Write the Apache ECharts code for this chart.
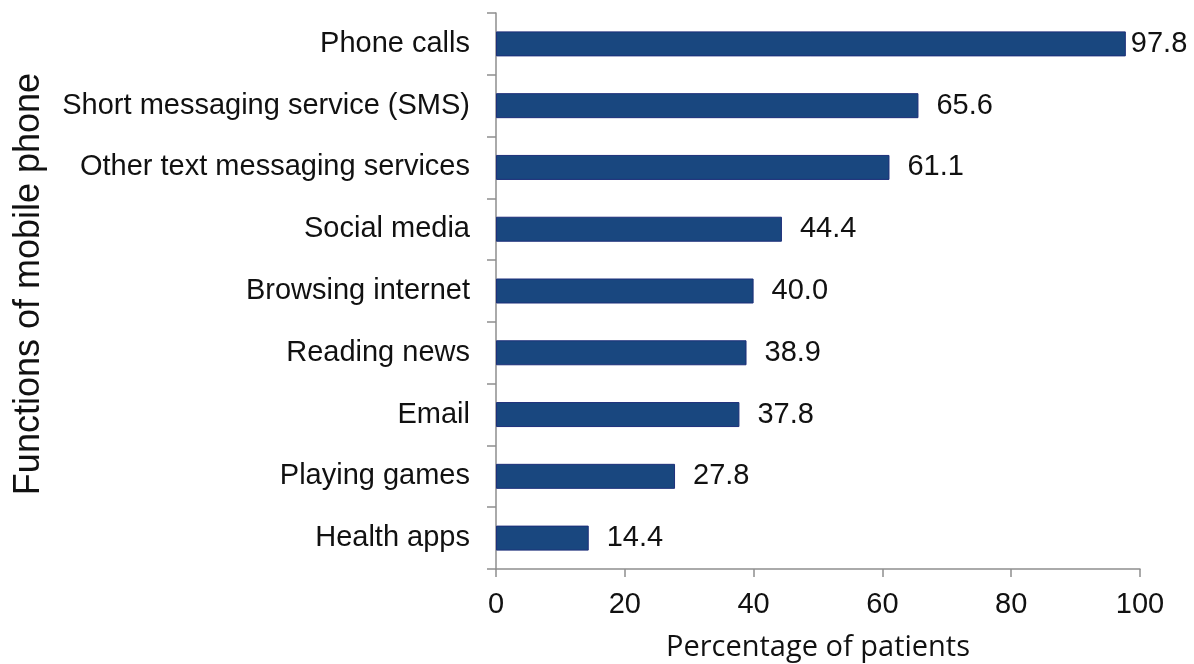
<!DOCTYPE html>
<html>
<head>
<meta charset="utf-8">
<script src="https://cdn.jsdelivr.net/npm/echarts@6/dist/echarts.min.js"></script>
<style>
html,body{margin:0;padding:0;background:#fff;}
#chart{width:1194px;height:664px;}
</style>
</head>
<body>
<div id="chart"></div>
<script>
const categories = ["Phone calls","Short messaging service (SMS)","Other text messaging services","Social media","Browsing internet","Reading news","Email","Playing games","Health apps"];
const values = [97.8,65.6,61.1,44.4,40.0,38.9,37.8,27.8,14.4];
const xTicks = [0,20,40,60,80,100];
const xTitle = "Percentage of patients";
const yTitle = "Functions of mobile phone";

const axisGray = '#8e8e8e';
const chart = echarts.init(document.getElementById('chart'), null, {renderer:'canvas'});
chart.setOption({
  animation:false,
  backgroundColor:'#ffffff',
  grid:{left:496,right:54,top:13,bottom:95,containLabel:false,outerBoundsMode:'none'},
  xAxis:{
    type:'value',min:xTicks[0],max:xTicks[xTicks.length-1],interval:20,
    name:xTitle,nameLocation:'middle',nameGap:64,
    nameTextStyle:{fontFamily:'Open Sans',fontSize:29,color:'#111'},
    axisLine:{show:true,lineStyle:{color:axisGray,width:1.5}},
    axisTick:{show:true,length:8,inside:false,lineStyle:{color:axisGray,width:1.5}},
    axisLabel:{fontFamily:'Liberation Sans',fontSize:29,color:'#111',margin:21},
    splitLine:{show:false}
  },
  yAxis:{
    type:'category',data:categories,inverse:true,
    name:yTitle,nameLocation:'middle',nameGap:449,nameRotate:90,
    nameTextStyle:{fontFamily:'Liberation Sans',fontSize:36,color:'#111',padding:[0,0,0,14]},
    axisLine:{show:true,lineStyle:{color:axisGray,width:1.5}},
    axisTick:{show:true,length:9,inside:false,alignWithLabel:false,lineStyle:{color:axisGray,width:1.5}},
    axisLabel:{fontFamily:'Liberation Sans',fontSize:29,color:'#111',margin:26},
    splitLine:{show:false}
  },
  series:[{
    type:'bar',
    barWidth:25,
    data:values.map((v,i)=>({value:v,label:{distance: v>95 ? 5 : 18}})),
    itemStyle:{color:'#19477f',borderColor:'#1d2f7a',borderWidth:1},
    label:{show:true,position:'right',fontFamily:'Liberation Sans',fontSize:29,color:'#111',
      formatter:p=>p.value.toFixed(1)}
  }]
});
</script>
</body>
</html>
